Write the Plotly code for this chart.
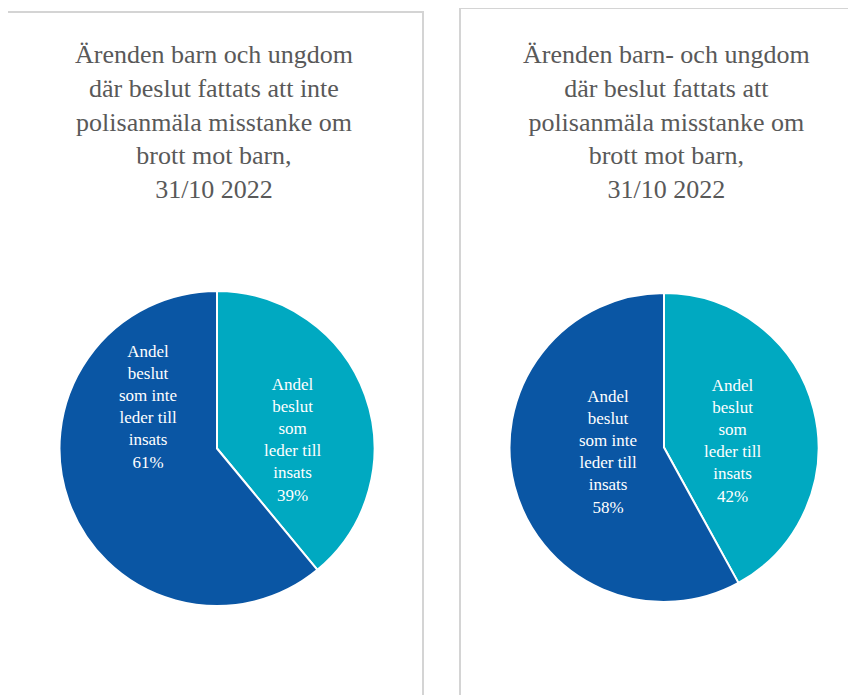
import plotly.graph_objects as go

labels = ["Andel beslut som leder till insats", "Andel beslut som inte leder till insats"]
left_values = [39, 61]
right_values = [42, 58]
left_text = ["Andel<br>beslut<br>som<br>leder till<br>insats<br>39%", "Andel<br>beslut<br>som inte<br>leder till<br>insats<br>61%"]
right_text = ["Andel<br>beslut<br>som<br>leder till<br>insats<br>42%", "Andel<br>beslut<br>som inte<br>leder till<br>insats<br>58%"]
left_title = "Ärenden barn och ungdom<br>där beslut fattats att inte<br>polisanmäla misstanke om<br>brott mot barn,<br>31/10 2022"
right_title = "Ärenden barn- och ungdom<br>där beslut fattats att<br>polisanmäla misstanke om<br>brott mot barn,<br>31/10 2022"
colors = ["#00A9C1", "#0A56A4"]

W, H = 856, 695
OFF = 8  # page body margin
def px(x): return (x - OFF) / W
def py(y): return 1 - (y - OFF) / H

# pie geometry (screen pixels) and label offsets from the pie centre
pies = [
    dict(values=left_values, text=left_text, box=(59, 375, 291, 606), offsets=[(75, -9), (-69, -42)]),
    dict(values=right_values, text=right_text, box=(509, 819, 293, 602), offsets=[(68, -7), (-56, 4)]),
]

fig = go.Figure()
for p in pies:
    x0, x1, y0, y1 = p["box"]
    fig.add_trace(go.Pie(labels=labels, values=p["values"], sort=False, direction="clockwise", rotation=0,
                         marker=dict(colors=colors, line=dict(color="white", width=2)),
                         textinfo="none", hoverinfo="label+percent", showlegend=False,
                         domain=dict(x=[px(x0), px(x1)], y=[py(y1), py(y0)])))
    cx, cy = (x0 + x1) / 2, (y0 + y1) / 2
    for t, (dx, dy) in zip(p["text"], p["offsets"]):
        fig.add_annotation(text=t, x=px(cx + dx), y=py(cy + dy), xref="paper", yref="paper",
                           xanchor="center", yanchor="middle", showarrow=False, align="center",
                           font=dict(family="Liberation Serif", size=17, color="white"))

fig.add_shape(type="rect", xref="paper", yref="paper", x0=px(6), x1=px(423), y0=-0.05, y1=py(12),
              line=dict(color="#D4D4D4", width=2), fillcolor="rgba(0,0,0,0)")
fig.add_shape(type="rect", xref="paper", yref="paper", x0=px(460), x1=1.05, y0=-0.05, y1=py(8),
              line=dict(color="#D4D4D4", width=2), fillcolor="rgba(0,0,0,0)")

fig.add_annotation(text=left_title, x=px(214), y=py(122), xref="paper", yref="paper",
                   xanchor="center", yanchor="middle", showarrow=False, align="center",
                   font=dict(family="Liberation Serif", size=26, color="#595959"))
fig.add_annotation(text=right_title, x=px(666), y=py(122), xref="paper", yref="paper",
                   xanchor="center", yanchor="middle", showarrow=False, align="center",
                   font=dict(family="Liberation Serif", size=26, color="#595959"))

fig.update_layout(width=W, height=H, margin=dict(l=0, r=0, t=0, b=0),
                  paper_bgcolor="white", plot_bgcolor="white")
fig.write_html("out.html")
